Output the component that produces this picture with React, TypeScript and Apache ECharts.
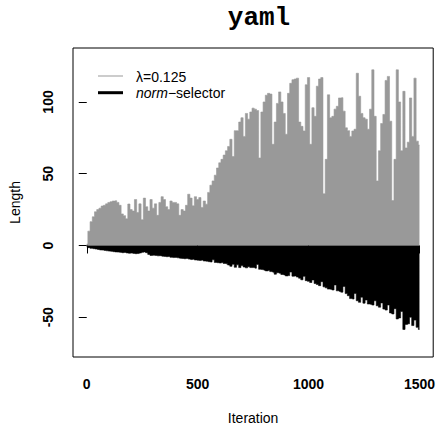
import React, { useEffect, useRef } from "react";
import * as echarts from "echarts";

// iteration spacing between successive readings
const STEP = 10;

// λ=0.125 (grey, positive lengths), read every 10 iterations from 0 to 1500
const lambdaLengths = [
  1, 10, 16.6, 20, 23.5, 25, 26, 27.5, 28, 29,
  30, 30.5, 31, 31.2, 30, 28, 22, 20.8, 18.6, 28.9,
  25, 24, 32, 23, 29, 18, 33, 27, 24, 32,
  26, 29, 21, 30, 34, 32, 27, 25, 31, 30,
  30, 29, 21, 25, 24, 28, 35.7, 33, 27.6, 34,
  32, 33.4, 26.5, 31, 28.8, 37, 42, 45, 49, 54,
  57.6, 60, 63, 66, 69, 74, 62, 80, 80, 86,
  89, 76, 92, 88, 93, 95.7, 95, 94, 61, 93,
  100, 104.7, 106, 105.5, 70.5, 86, 99, 107, 100, 92,
  77.5, 106, 113, 115.5, 116, 116.6, 86, 83, 79.8, 112,
  117, 70.5, 96, 90, 111, 116, 117, 36, 60, 105,
  89, 90, 95, 97, 102.8, 103, 93.6, 82, 80, 76,
  79.8, 81, 120, 104, 92, 89, 88, 81, 95, 122.4,
  90, 45, 66, 85, 91.3, 115, 117.8, 86.6, 31.3, 60,
  122.4, 100, 66, 107.4, 68, 72, 102.8, 76, 116.6, 72.7,
  70,
];

// norm-selector (black, negative lengths), read every 10 iterations from 0 to 1500
const normLengths = [
  -1, -1.5, -2, -2.2, -2.5, -2.8, -3.1, -3.2, -3.5, -3.7,
  -3.9, -4.1, -4.3, -4.5, -4.6, -4.8, -5.0, -4.9, -5.2, -5.4,
  -5.3, -5.5, -5.7, -5.6, -5.2, -4.8, -4.5, -5.0, -6.2, -6.9,
  -6.8, -7.0, -7.2, -7.1, -7.5, -7.6, -7.8, -7.7, -8.2, -8.4,
  -8.3, -8.6, -8.9, -9.0, -9.2, -9.1, -9.5, -9.8, -9.6, -10.1,
  -10.3, -10.4, -10.2, -10.8, -11.0, -11.3, -11.5, -10.0, -11.8, -12.0,
  -12.2, -11.9, -12.5, -12.8, -13.6, -14.5, -13.1, -15.2, -13.5, -15.4,
  -14.0, -15.0, -15.6, -14.8, -15.4, -15.4, -15.8, -13.2, -16.6, -16.8,
  -17.2, -17.7, -17.5, -18.2, -18.6, -20.0, -19.0, -19.4, -20.2, -20.5,
  -21.2, -21.0, -18.5, -21.4, -21.2, -22.0, -22.8, -23.9, -21.5, -24.5,
  -25.0, -25.8, -24.0, -26.5, -27.2, -28.0, -25.2, -28.8, -29.5, -30.4,
  -30.5, -31.0, -27.5, -31.6, -32.0, -32.5, -28.5, -33.5, -35.0, -37.0,
  -37.3, -33.5, -38.5, -39.6, -36.0, -40.2, -38.0, -40.8, -41.0, -41.5,
  -38.5, -42.0, -43.0, -40.0, -44.3, -45.0, -41.5, -47.0, -47.7, -44.0,
  -51.2, -50.5, -46.0, -58.5, -55.0, -54.6, -50.0, -55.8, -52.0, -57.0,
  -58.5,
];

const xTicks = [0, 500, 1000, 1500];
const yTicks = [-50, 0, 50, 100];
const titleText = "yaml";
const xName = "Iteration";
const yName = "Length";
const legendLambda = "λ=0.125";
const legendNormItalic = "norm";
const legendNormRest = "−selector";

const GRAY = "#999999";
const BLACK = "#000000";
const SANS = "'Liberation Sans', Arial, Helvetica, sans-serif";

function spikeSeries(name: string, data: number[][], color: string) {
  return {
    name,
    type: "line",
    data,
    step: "middle",
    symbol: "none",
    showSymbol: false,
    lineStyle: { width: 0.6, color },
    itemStyle: { color },
    areaStyle: { color, opacity: 1, origin: 0 },
    silent: true,
    clip: true,
  };
}

export default function App() {
  const ref = useRef<HTMLDivElement>(null);

  useEffect(() => {
    if (!ref.current) return;
    const chart = echarts.init(ref.current, null, { renderer: "svg" });
    const grayData = lambdaLengths.map((v, i) => [i * STEP, v]);
    const blackData = normLengths.map((v, i) => [i * STEP, v]);

    chart.setOption({
      animation: false,
      backgroundColor: "#ffffff",
      title: {
        text: titleText,
        left: 254,
        top: 0,
        textAlign: "center",
        textStyle: {
          fontFamily: "'Liberation Mono', 'Courier New', monospace",
          fontWeight: "bold",
          fontSize: 26,
          color: "#000",
        },
      },
      grid: {
        left: 72,
        right: 2,
        top: 48,
        bottom: 71,
        show: true,
        borderColor: "#000",
        borderWidth: 1,
        backgroundColor: "transparent",
        containLabel: false,
      },
      xAxis: {
        type: "value",
        min: -62,
        max: 1562,
        name: xName,
        nameLocation: "middle",
        nameGap: 54,
        nameTextStyle: { fontFamily: SANS, fontSize: 14, color: "#000" },
        axisLine: { show: false },
        splitLine: { show: false },
        axisTick: {
          show: true,
          inside: false,
          length: 8,
          customValues: xTicks,
          lineStyle: { color: "#000", width: 1 },
        },
        axisLabel: {
          customValues: xTicks,
          margin: 20,
          formatter: (v: number) => String(v),
          fontFamily: SANS,
          fontWeight: "bold",
          fontSize: 14,
          color: "#000",
        },
      },
      yAxis: {
        type: "value",
        min: -77.7,
        max: 137.6,
        name: yName,
        nameLocation: "middle",
        nameGap: 51,
        nameTextStyle: { fontFamily: SANS, fontSize: 14, color: "#000" },
        axisLine: { show: false },
        splitLine: { show: false },
        axisTick: {
          show: true,
          inside: false,
          length: 8,
          customValues: yTicks,
          lineStyle: { color: "#000", width: 1 },
        },
        axisLabel: {
          customValues: yTicks,
          rotate: 90,
          margin: 18,
          formatter: (v: number) => String(v),
          fontFamily: SANS,
          fontWeight: "bold",
          fontSize: 14,
          color: "#000",
        },
      },
      series: [
        spikeSeries(legendLambda, grayData, GRAY),
        spikeSeries("norm-selector", blackData, BLACK),
      ],
      graphic: [
        {
          type: "line",
          shape: { x1: 98, y1: 76, x2: 123, y2: 76 },
          style: { stroke: GRAY, lineWidth: 1 },
        },
        {
          type: "line",
          shape: { x1: 98, y1: 92.7, x2: 123, y2: 92.7 },
          style: { stroke: BLACK, lineWidth: 3 },
        },
        {
          type: "text",
          x: 136,
          y: 76.5,
          style: {
            text: legendLambda,
            fontFamily: SANS,
            fontSize: 14,
            fill: "#000",
            textAlign: "left",
            textVerticalAlign: "middle",
          },
        },
        {
          type: "text",
          x: 136,
          y: 93,
          style: {
            text: "{i|" + legendNormItalic + "}" + legendNormRest,
            fontFamily: SANS,
            fontSize: 14,
            fill: "#000",
            textAlign: "left",
            textVerticalAlign: "middle",
            rich: {
              i: { fontFamily: SANS, fontSize: 14, fontStyle: "italic", fill: "#000" },
            },
          },
        },
      ],
    });

    return () => chart.dispose();
  }, []);

  return (
    <div
      ref={ref}
      style={{ position: "absolute", left: 0, top: 0, width: 438, height: 430 }}
    />
  );
}
